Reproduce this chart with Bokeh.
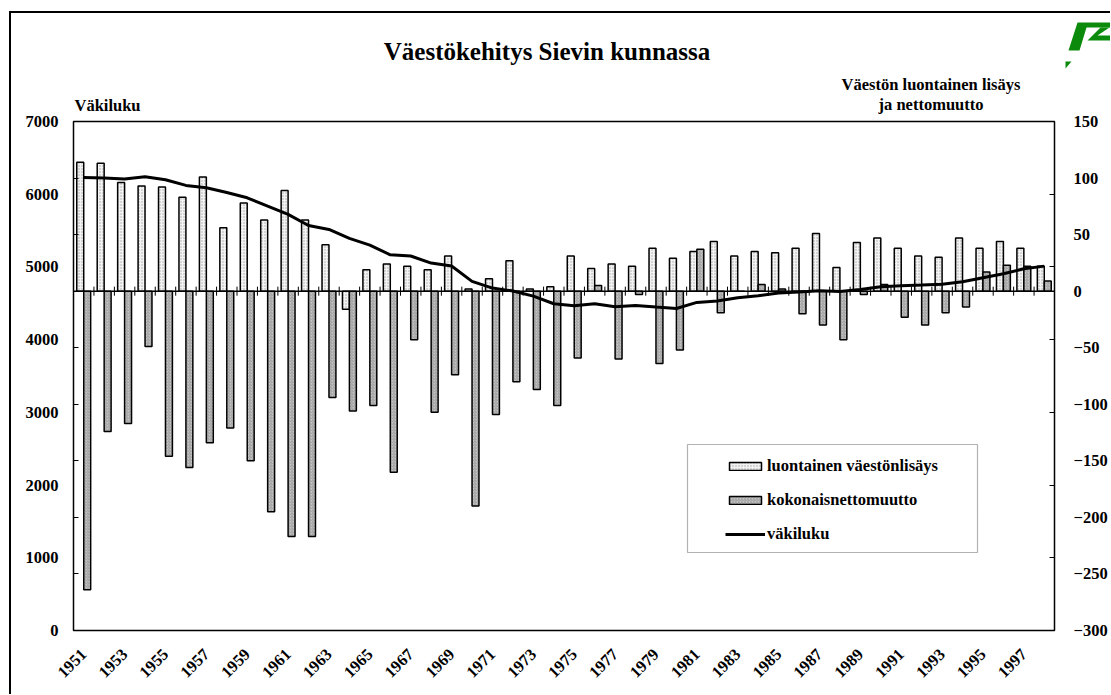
import math
from bokeh.plotting import figure
from bokeh.layouts import column, row
from bokeh.models import (Range1d, LinearAxis, FixedTicker, Span, Legend, LegendItem,
                          BoxAnnotation, CustomJSTickFormatter, ColumnDataSource, Div)
from bokeh.core.properties import value
from bokeh.transform import dodge
from bokeh.embed import file_html
from bokeh.resources import INLINE

# ---------------- data ----------------
years = list(range(1951, 1999))
luontainen = [114, 113, 96, 93, 92, 83, 101, 56, 78, 63,
              89, 63, 41, -16, 19, 24, 22, 19, 31, 2,
              11, 27, 2, 4, 31, 20, 24, 22, 38, 29,
              35, 44, 31, 35, 34, 38, 51, 21, 43, 47,
              38, 31, 30, 47, 38, 44, 38, 22]
nettomuutto = [-264, -124, -117, -49, -146, -156, -134, -121, -150, -195,
               -217, -217, -94, -106, -101, -160, -43, -107, -74, -190,
               -109, -80, -87, -101, -59, 5, -60, -3, -64, -52,
               37, -19, 0, 6, 2, -20, -30, -43, -3, 6,
               -23, -30, -19, -14, 17, 23, 22, 9]
vakiluku = [6231, 6222, 6208, 6241, 6199, 6121, 6089, 6024, 5951, 5836,
            5722, 5570, 5515, 5392, 5300, 5167, 5150, 5053, 5012, 4801,
            4709, 4668, 4599, 4494, 4466, 4494, 4453, 4471, 4448, 4429,
            4512, 4530, 4576, 4603, 4640, 4654, 4672, 4663, 4690, 4727,
            4741, 4750, 4763, 4796, 4851, 4906, 4975, 5011]
left_ticks = [0, 1000, 2000, 3000, 4000, 5000, 6000, 7000]
right_ticks = [-300, -250, -200, -150, -100, -50, 0, 50, 100, 150]
year_ticks = years[::2]

title_text = "Väestökehitys Sievin kunnassa"
left_title = "Väkiluku"
right_title = ["Väestön luontainen lisäys", "ja nettomuutto"]
legend_labels = ["luontainen väestönlisäys", "kokonaisnettomuutto", "väkiluku"]

# ---------------- layout constants (page pixels) ----------------
FONT = "Liberation Serif"
TOT_W, TOT_H = 1110, 694
BX, BY = 11, 13        # inner edge of the outer chart border (left, top)
HDR_B = 118            # bottom of the header canvas
OV = 14                # overlap of the main canvas over the header
MAIN_T = HDR_B - OV
FRAME_L, FRAME_R, FRAME_T, FRAME_B = 73, 1057, 121, 630
GREEN = "#0b8a0b"
MID = 0.3375           # baseline offset of a middle-anchored Liberation Serif text, in em

# ---------------- outer border ----------------
vline = Div(text="", width=2, height=TOT_H - BY + 2, margin=(BY - 2, 0, 0, BX - 2),
            styles={"background-color": "black"})
hline = Div(text="", width=TOT_W - BX, height=2, margin=(BY - 2, 0, 0, 0),
            styles={"background-color": "black"})

# ---------------- header (title, axis titles, logo) ----------------
hdr = figure(width=TOT_W - BX, height=HDR_B - BY, output_backend="svg",
             toolbar_location=None, title_location=None,
             x_range=Range1d(BX, TOT_W), y_range=Range1d(HDR_B, BY),
             x_axis_location=None, y_axis_location=None, min_border=0,
             outline_line_color=None)
hdr.grid.visible = False


def htext(xs, baselines, texts, size, align):
    hdr.text(x=xs, y=[b - MID * size for b in baselines], text=texts,
             text_font=value(FONT), text_font_style="bold",
             text_font_size=f"{size}px", text_align=align,
             text_baseline="middle", text_color="black")


htext([546.5], [59.5], [title_text], 25, "center")
htext([74], [110.5], [left_title], 16.5, "left")
htext([930.5, 930.5], [90, 109.5], right_title, 16.5, "center")

logo_xs = [[1077, 1111, 1111, 1086, 1079, 1068],
           [1100, 1109, 1097, 1111, 1111, 1087],
           [1065, 1071, 1065]]
logo_ys = [[22, 22, 27, 27, 50, 50],
           [27, 27, 35, 35, 40, 40],
           [61, 61, 68]]
hdr.patches(xs=logo_xs, ys=logo_ys, fill_color=GREEN, line_color=None)

# ---------------- main chart ----------------
src = ColumnDataSource(dict(x=years, luo=luontainen, net=nettomuutto, vak=vakiluku))
bounds = ColumnDataSource(dict(b=[y + 0.5 for y in years[:-1]]))

p = figure(width=TOT_W - BX, height=TOT_H - MAIN_T, output_backend="svg",
           toolbar_location=None, title_location=None,
           x_range=Range1d(years[0] - 0.5, years[-1] + 0.5),
           y_range=Range1d(left_ticks[0], left_ticks[-1]),
           x_axis_location=None, y_axis_location=None,
           min_border_left=FRAME_L - BX, min_border_right=TOT_W - FRAME_R,
           min_border_top=FRAME_T - MAIN_T, min_border_bottom=TOT_H - FRAME_B)
p.extra_y_ranges = {"r": Range1d(right_ticks[0], right_ticks[-1])}
p.grid.visible = False
p.outline_line_color = "black"
p.outline_line_width = 1.5
p.border_fill_color = None
p.background_fill_color = "white"


def label_style(ax):
    ax.axis_line_color = None
    ax.minor_tick_line_color = None
    ax.major_tick_line_color = None
    ax.major_label_text_font = FONT
    ax.major_label_text_font_style = "bold"
    ax.major_label_text_font_size = "16.5px"
    ax.major_label_text_color = "black"


def tick_only(ax):
    ax.axis_line_color = None
    ax.minor_tick_line_color = None
    ax.major_tick_in = 5
    ax.major_tick_out = 0
    ax.major_tick_line_color = "black"
    ax.major_tick_line_width = 1
    ax.major_label_standoff = 0
    ax.major_label_text_font_size = "1px"


lt = LinearAxis(y_range_name="r", ticker=FixedTicker(ticks=right_ticks),
                formatter=CustomJSTickFormatter(code="return ''"))
tick_only(lt)
p.add_layout(lt, "left")
la = LinearAxis(ticker=FixedTicker(ticks=left_ticks))
label_style(la)
la.major_label_standoff = 9
p.add_layout(la, "left")

rt = LinearAxis(ticker=FixedTicker(ticks=left_ticks),
                formatter=CustomJSTickFormatter(code="return ''"))
tick_only(rt)
p.add_layout(rt, "right")
ra = LinearAxis(y_range_name="r", ticker=FixedTicker(ticks=right_ticks))
label_style(ra)
ra.major_label_standoff = 13
p.add_layout(ra, "right")

xa = LinearAxis(ticker=FixedTicker(ticks=year_ticks), major_label_orientation=math.pi / 4)
label_style(xa)
xa.major_label_standoff = 15
p.add_layout(xa, "below")

r1 = p.vbar(x=dodge("x", -0.17, range=p.x_range), top="luo", bottom=0, width=0.34,
            source=src, y_range_name="r", fill_color="#f3f3f3", line_color="black",
            line_width=1.5, hatch_pattern="dot", hatch_color="#a8a8a8",
            hatch_scale=3, hatch_weight=0.7)
r2 = p.vbar(x=dodge("x", 0.17, range=p.x_range), top="net", bottom=0, width=0.34,
            source=src, y_range_name="r", fill_color="#c6c6c6", line_color="black",
            line_width=1.5, hatch_pattern="right_diagonal_line", hatch_color="#8a8a8a",
            hatch_scale=3, hatch_weight=0.7)

p.add_layout(Span(location=0, dimension="width", y_range_name="r",
                  line_color="black", line_width=1.5))
p.segment(x0="b", y0=-4, x1="b", y1=4, source=bounds, y_range_name="r",
          line_color="black", line_width=1)

rl = p.line("x", "vak", source=src, line_color="black", line_width=3)

# legend frame (page pixels -> main canvas)
LEG_L, LEG_T, LEG_R, LEG_B = 687, 444, 977, 552
p.add_layout(BoxAnnotation(left=LEG_L - BX, right=LEG_R - BX,
                           top=LEG_T - MAIN_T, bottom=LEG_B - MAIN_T,
                           left_units="canvas", right_units="canvas",
                           top_units="canvas", bottom_units="canvas",
                           fill_color="white", fill_alpha=1,
                           line_color="black", line_width=1.2, level="underlay"))
legend = Legend(items=[LegendItem(label=legend_labels[0], renderers=[r1]),
                       LegendItem(label=legend_labels[1], renderers=[r2]),
                       LegendItem(label=legend_labels[2], renderers=[rl])],
                location=(715 - FRAME_L, FRAME_B - 554), padding=10, margin=0,
                spacing=14, glyph_width=40, glyph_height=10, label_height=20,
                label_standoff=2, label_text_font=FONT, label_text_font_style="bold",
                label_text_font_size="16.5px", label_text_color="black",
                border_line_alpha=0, background_fill_alpha=0)
p.add_layout(legend)

main_row = row(p, spacing=0, margin=(-OV, 0, 0, 0))
layout = row(vline, column(hline, hdr, main_row, spacing=0), spacing=0)
open("out.html", "w").write(file_html(layout, INLINE))
